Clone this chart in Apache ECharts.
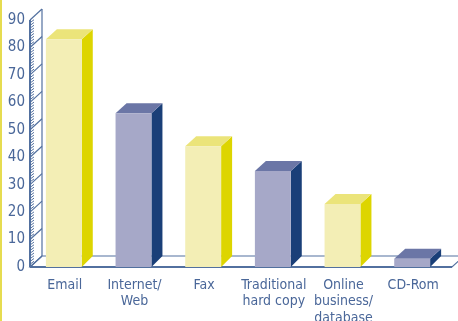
<!DOCTYPE html>
<html>
<head>
<meta charset="utf-8">
<script src="https://cdn.jsdelivr.net/npm/echarts@6/dist/echarts.min.js"></script>
<style>
  html, body { margin: 0; padding: 0; background: #fff; }
  #chart { width: 458px; height: 321px; }
</style>
</head>
<body>
<div id="chart"></div>
<script>
// data
const categories = ['Email', 'Internet/\nWeb', 'Fax', 'Traditional\nhard copy', 'Online\nbusiness/\ndatabase', 'CD-Rom'];
const values = [83, 56, 44, 35, 23, 3];
const yTicks = [0, 10, 20, 30, 40, 50, 60, 70, 80, 90];

const textColor = '#4A6799';
const lineColor = '#52709F';
const font = '"Liberation Sans Narrow", "DejaVu Sans Condensed", "Roboto", sans-serif';

// alternating colours: front, side, top
const palettes = [
  { front: '#F3EEB5', side: '#DDD500', top: '#EBE47A' },
  { front: '#A6A8C8', side: '#1A3F78', top: '#6B76A6' }
];
const DX = 11, DY = 10;

const chart = echarts.init(document.getElementById('chart'));

function renderFrame(params, api) {
  const cs = params.coordSys;
  const x = cs.x, y = cs.y, w = cs.width + 4, h = cs.height;
  const dx = 12, dy = 11;
  const bottom = y + h;
  const st = { stroke: lineColor, lineWidth: 1.2, fill: null };
  const children = [];
  // floor
  children.push({ type: 'polygon', shape: { points: [[x, bottom], [x + dx, bottom - dy], [x + w + dx, bottom - dy], [x + w, bottom]] },
    style: { fill: '#fff', stroke: lineColor, lineWidth: 1.2 } });
  children.push({ type: 'line', shape: { x1: x, y1: bottom, x2: x + w, y2: bottom }, style: { stroke: lineColor, lineWidth: 2 } });
  // wall strip
  children.push({ type: 'line', shape: { x1: x, y1: bottom, x2: x, y2: y }, style: { stroke: lineColor, lineWidth: 2 } });
  children.push({ type: 'line', shape: { x1: x + dx, y1: bottom - dy, x2: x + dx, y2: y - dy }, style: st });
  yTicks.forEach(function (t) {
    const p = api.coord([0, t]);
    children.push({ type: 'line', shape: { x1: x, y1: p[1], x2: x + dx, y2: p[1] - dy }, style: st });
  });
  // minor hatch ticks every unit
  for (let v = 1; v < 90; v++) {
    if (v % 10 === 0) continue;
    const p = api.coord([0, v]);
    children.push({ type: 'line', shape: { x1: x, y1: p[1], x2: x + 4, y2: p[1] - 3 }, style: { stroke: lineColor, lineWidth: 1 } });
  }
  return { type: 'group', children: children };
}

function renderBar(params, api) {
  const idx = api.value(0);
  const base = api.coord([idx, 0]);
  const top = api.coord([idx, api.value(1)]);
  const bw = api.size([1, 0])[0] * 0.515;
  const x0 = base[0] - bw / 2 - 1;
  const pal = palettes[idx % 2];
  return {
    type: 'group',
    children: [
      { type: 'polygon', shape: { points: [[x0 + bw, top[1]], [x0 + bw + DX, top[1] - DY], [x0 + bw + DX, base[1] - DY - 1], [x0 + bw, base[1]]] },
        style: { fill: pal.side } },
      { type: 'polygon', shape: { points: [[x0, top[1]], [x0 + DX, top[1] - DY], [x0 + bw + DX, top[1] - DY], [x0 + bw, top[1]]] },
        style: { fill: pal.top } },
      { type: 'rect', shape: { x: x0, y: top[1], width: bw, height: base[1] - top[1] },
        style: { fill: pal.front } }
    ]
  };
}

const option = {
  animation: false,
  textStyle: { fontFamily: font },
  grid: { left: 30, right: 10, top: 20, bottom: 54, outerBoundsMode: 'none', containLabel: false },
  graphic: [
    { type: 'rect', left: 0, top: 0, shape: { width: 2, height: 321 }, style: { fill: '#E6DC50' } }
  ],
  xAxis: {
    type: 'category',
    data: categories,
    axisLine: { show: false },
    axisTick: { show: false },
    axisLabel: { interval: 0, color: textColor, fontSize: 14, lineHeight: 16.5, margin: 10, fontFamily: font }
  },
  yAxis: {
    type: 'value',
    min: 0,
    max: 90,
    interval: 10,
    axisLine: { show: false },
    axisTick: { show: false },
    splitLine: { show: false },
    axisLabel: { color: textColor, fontSize: 15, margin: 5, padding: [3, 0, 0, 0], fontFamily: font }
  },
  series: [
    {
      type: 'custom',
      clip: false,
      z: 1,
      data: [[0, 0]],
      renderItem: renderFrame,
      silent: true
    },
    {
      type: 'custom',
      clip: false,
      z: 2,
      data: values.map(function (v, i) { return [i, v]; }),
      renderItem: renderBar
    }
  ]
};

chart.setOption(option);
</script>
</body>
</html>
